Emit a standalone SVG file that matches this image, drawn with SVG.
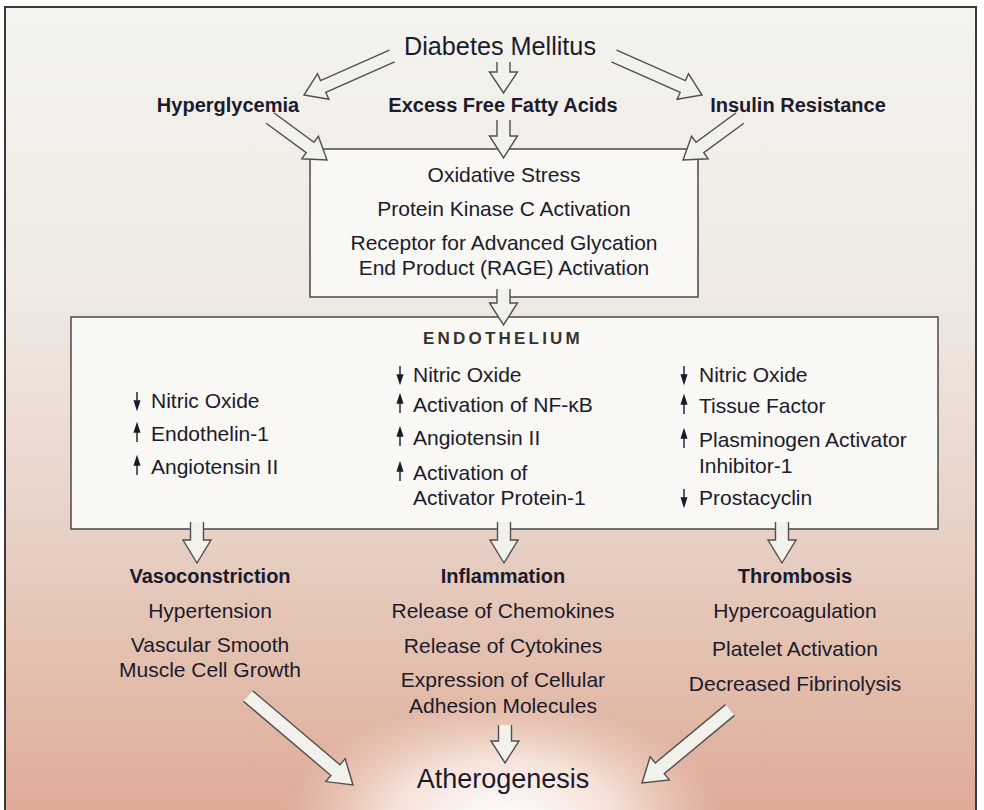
<svg xmlns="http://www.w3.org/2000/svg" width="984" height="810" viewBox="0 0 984 810">
<defs>
<linearGradient id="bg" x1="0" y1="0" x2="0" y2="1">
<stop offset="0" stop-color="#f4f3ef"/>
<stop offset="0.35" stop-color="#efe9e2"/>
<stop offset="0.6" stop-color="#e8d4ca"/>
<stop offset="0.8" stop-color="#e3bead"/>
<stop offset="1" stop-color="#dea793"/>
</linearGradient>
<radialGradient id="glow" cx="503" cy="820" r="220" gradientUnits="userSpaceOnUse" gradientTransform="translate(503 820) scale(1 0.55) translate(-503 -820)">
<stop offset="0" stop-color="#ffffff" stop-opacity="1"/>
<stop offset="0.5" stop-color="#fbf0ea" stop-opacity="0.8"/>
<stop offset="1" stop-color="#f4ddd2" stop-opacity="0"/>
</radialGradient>
<path id="dn" d="M0,-16 V-5 M-2.6,-7 L2.6,-7 L0,1 Z"/>
<path id="up" d="M0,1 V-10 M-2.6,-9 L2.6,-9 L0,-17 Z"/>
</defs>
<style>
text{font-family:"Liberation Sans",Arial,sans-serif;fill:#1b1b2c;}
.t{font-size:21px;}
.c{text-anchor:middle;}
.b{font-size:20px;font-weight:bold;}
.big{font-size:26px;}
.box{fill:#f9f8f4;stroke:#4a4a4a;stroke-width:1.5;}
.ar{fill:#f2f1eb;stroke:#4f4f4f;stroke-width:1.4;stroke-linejoin:miter;}
.ind{fill:#1b1b2c;stroke:#1b1b2c;stroke-width:1.4;}
</style>
<rect x="0" y="0" width="984" height="810" fill="#ffffff"/>
<rect x="5" y="7" width="971" height="830" fill="url(#bg)" stroke="#3a3a3a" stroke-width="2"/>
<ellipse cx="503" cy="820" rx="220" ry="121" fill="url(#glow)"/>

<g id="diabetes"><text class="big c" x="500" y="55" textLength="192" lengthAdjust="spacingAndGlyphs">Diabetes Mellitus</text></g>
<g id="hyperglycemia"><text class="b c" x="228" y="112">Hyperglycemia</text></g>
<g id="ffa"><text class="b c" x="503" y="112">Excess Free Fatty Acids</text></g>
<g id="insulin"><text class="b c" x="798" y="112">Insulin Resistance</text></g>

<g id="stress">
<rect class="box" x="310" y="149" width="388" height="148"/>
<text class="t c" x="504" y="182">Oxidative Stress</text>
<text class="t c" x="504" y="216">Protein Kinase C Activation</text>
<text class="t c" x="504" y="250">Receptor for Advanced Glycation</text>
<text class="t c" x="504" y="275">End Product (RAGE) Activation</text>
</g>

<g id="endothelium">
<rect class="box" x="71" y="317" width="867" height="212"/>
<text x="503" y="344" text-anchor="middle" style="font-size:17px;font-weight:bold;letter-spacing:3.2px;fill:#333">ENDOTHELIUM</text>
<g class="ind">
<use href="#dn" x="137" y="408"/><use href="#up" x="137" y="441"/><use href="#up" x="137" y="474"/>
<use href="#dn" x="400" y="382"/><use href="#up" x="400" y="412"/><use href="#up" x="400" y="445"/><use href="#up" x="400" y="480"/>
<use href="#dn" x="684" y="382"/><use href="#up" x="684" y="413"/><use href="#up" x="684" y="447"/><use href="#dn" x="684" y="505"/>
</g>
<text class="t" x="151" y="408">Nitric Oxide</text>
<text class="t" x="151" y="441">Endothelin-1</text>
<text class="t" x="151" y="474">Angiotensin II</text>
<text class="t" x="413" y="382">Nitric Oxide</text>
<text class="t" x="413" y="412">Activation of NF-κB</text>
<text class="t" x="413" y="445">Angiotensin II</text>
<text class="t" x="413" y="480">Activation of</text>
<text class="t" x="413" y="505">Activator Protein-1</text>
<text class="t" x="699" y="382">Nitric Oxide</text>
<text class="t" x="699" y="413">Tissue Factor</text>
<text class="t" x="699" y="447">Plasminogen Activator</text>
<text class="t" x="699" y="473">Inhibitor-1</text>
<text class="t" x="699" y="505">Prostacyclin</text>
</g>

<g id="vasoconstriction">
<text class="b c" x="210" y="583">Vasoconstriction</text>
<text class="t c" x="210" y="618">Hypertension</text>
<text class="t c" x="210" y="652">Vascular Smooth</text>
<text class="t c" x="210" y="677">Muscle Cell Growth</text>
</g>
<g id="inflammation">
<text class="b c" x="503" y="583">Inflammation</text>
<text class="t c" x="503" y="618">Release of Chemokines</text>
<text class="t c" x="503" y="653">Release of Cytokines</text>
<text class="t c" x="503" y="687">Expression of Cellular</text>
<text class="t c" x="503" y="713">Adhesion Molecules</text>
</g>
<g id="thrombosis">
<text class="b c" x="795" y="583">Thrombosis</text>
<text class="t c" x="795" y="618">Hypercoagulation</text>
<text class="t c" x="795" y="656">Platelet Activation</text>
<text class="t c" x="795" y="691">Decreased Fibrinolysis</text>
</g>
<g id="atherogenesis"><text class="c" style="font-size:27px" x="503" y="788">Atherogenesis</text></g>

<g id="connectors" class="ar">
<path d="M389.37,50.06 L320.57,80.55 L317.53,73.69 L304,95 L328.87,99.29 L325.83,92.43 L394.63,61.94"/>
<path d="M497,62 L497,72 L489.5,72 L503.5,93 L517.5,72 L510,72 L510,62"/>
<path d="M616.63,50.06 L685.43,80.55 L688.47,73.69 L702,95 L677.13,99.29 L680.17,92.43 L611.37,61.94"/>
<path d="M266.14,123.23 L306.23,152.77 L301.79,158.81 L327,160 L318.39,136.27 L313.95,142.31 L273.86,112.77"/>
<path d="M497,120 L497,136 L489.5,136 L503.5,158 L517.5,136 L510,136 L510,120"/>
<path d="M743.86,123.23 L703.77,152.77 L708.21,158.81 L683,160 L691.61,136.27 L696.05,142.31 L736.14,112.77"/>
<path d="M497,289 L497,303 L489.5,303 L503.5,325 L517.5,303 L510,303 L510,289"/>
<path d="M190.5,522 L190.5,540 L183,540 L197,563 L211,540 L203.5,540 L203.5,522"/>
<path d="M497.5,522 L497.5,540 L490,540 L504,563 L518,540 L510.5,540 L510.5,522"/>
<path d="M775.5,522 L775.5,540 L768,540 L782,563 L796,540 L788.5,540 L788.5,522"/>
<path d="M498.5,725 L498.5,741 L491,741 L505,763 L519,741 L511.5,741 L511.5,725"/>
<path d="M243.47,701.34 L330.92,775.46 L325.75,781.57 L353,785 L345.15,758.67 L339.98,764.78 L252.53,690.66"/>
<path d="M725.53,704.61 L655.24,762.92 L650.13,756.76 L642,783 L669.29,779.86 L664.18,773.70 L734.47,715.39"/>
</g>
</svg>
